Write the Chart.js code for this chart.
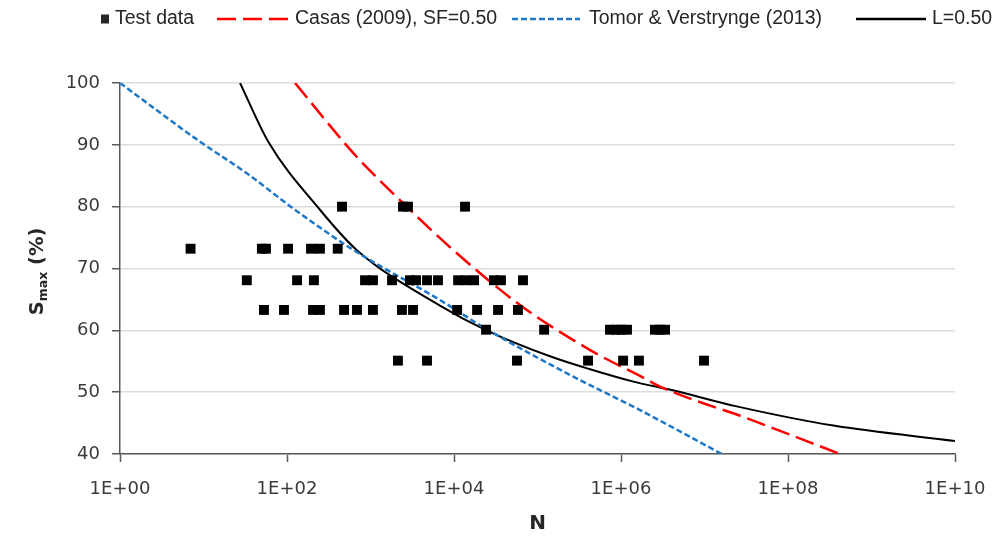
<!DOCTYPE html>
<html>
<head>
<meta charset="utf-8">
<script src="https://cdn.jsdelivr.net/npm/chart.js@4.4.1/dist/chart.umd.min.js"></script>
<style>
  html, body { margin: 0; padding: 0; background: #fff; }
</style>
</head>
<body>
<canvas id="fatigueChart" width="998" height="537"></canvas>
<script>
// Test results: number of cycles to failure and max stress level (%)
const testN = [
  456, 2450, 2810, 13550,
  7, 50, 56, 103, 194, 248, 405,
  33, 132, 210, 860, 1070, 1810, 2970, 3510, 4750, 6430, 11200, 13900, 17400, 30100, 36500, 67000,
  53, 92, 205, 248, 482, 689, 1070, 2380, 3230, 10900, 18900, 33700, 58300,
  24200, 120000, 738000, 871000, 1.0e6, 1.18e6, 2.55e6, 2.93e6, 3.37e6,
  2130, 4750, 56800, 403000, 1.06e6, 1.64e6, 9.86e6
];
const testS = [
  80, 80, 80, 80,
  73.2, 73.2, 73.2, 73.2, 73.2, 73.2, 73.2,
  68.1, 68.1, 68.1, 68.1, 68.1, 68.1, 68.1, 68.1, 68.1, 68.1, 68.1, 68.1, 68.1, 68.1, 68.1, 68.1,
  63.3, 63.3, 63.3, 63.3, 63.3, 63.3, 63.3, 63.3, 63.3, 63.3, 63.3, 63.3, 63.3,
  60.1, 60.1, 60.1, 60.1, 60.1, 60.1, 60.1, 60.1, 60.1,
  55.1, 55.1, 55.1, 55.1, 55.1, 55.1, 55.1
];

// Casas (2009), SF = 0.50
const casasN = [125, 495, 748, 2360, 9770, 61700, 427000, 1.94e6, 2.93e6, 3.5e7, 4.2e8];
const casasS = [100, 90.2, 87.5, 80.8, 73, 64.1, 56.8, 52.2, 50.9, 45.6, 40];

// Tomor & Verstrynge (2013)
const tomorN = [1, 9.1, 33, 119, 622, 6790, 24500, 269000, 1.69e6, 1.61e7];
const tomorS = [100, 90.5, 85.4, 79.7, 73, 64.9, 60.2, 52.5, 47.1, 40];

// L = 0.50
const lN = [27.4, 59.7, 248, 682, 6790, 24500, 141000, 427000, 1.41e6, 4.17e6, 2.43e7, 3.49e8, 1e10];
const lS = [100, 90.5, 79.5, 73, 64, 60, 55.8, 53.7, 51.7, 50.3, 47.7, 44.6, 42.1];

const xTicks = [1, 1e2, 1e4, 1e6, 1e8, 1e10];

const FONT = 'DejaVu Sans';
const LEGEND_FONT = 'Liberation Sans';
const AXIS = '#595959';
const TEXT = '#3a3a3a';

function pairs(xs, ys) {
  return xs.map((x, i) => ({ x: x, y: ys[i] }));
}

// legend row along the top
const legendPlugin = {
  id: 'topLegend',
  afterDraw(chart) {
    const ctx = chart.ctx;
    const y = 19;
    ctx.save();
    ctx.font = '19.5px "' + LEGEND_FONT + '"';
    ctx.fillStyle = '#262626';
    ctx.textBaseline = 'middle';
    ctx.textAlign = 'left';

    ctx.fillRect(101, y - 4.5, 8, 9);
    ctx.fillText('Test data', 115, y);

    const line = (x1, x2, color, width, dash) => {
      ctx.save();
      ctx.strokeStyle = color;
      ctx.lineWidth = width;
      ctx.setLineDash(dash);
      ctx.beginPath();
      ctx.moveTo(x1, y);
      ctx.lineTo(x2, y);
      ctx.stroke();
      ctx.restore();
    };
    line(217, 290, '#ff0000', 2.5, [19, 7]);
    ctx.fillText('Casas (2009), SF=0.50', 295, y);
    line(512, 580, '#1e78c8', 2.5, [6, 3]);
    ctx.fillText('Tomor & Verstrynge (2013)', 589, y);
    line(856, 926, '#000000', 2.5, []);
    ctx.fillText('L=0.50', 932, y);
    ctx.restore();
  }
};

// axis titles, the y one has a subscript
const titlePlugin = {
  id: 'axisTitles',
  afterDraw(chart) {
    const ctx = chart.ctx;
    const area = chart.chartArea;
    ctx.save();
    ctx.fillStyle = '#262626';
    ctx.textBaseline = 'alphabetic';

    ctx.font = 'bold 20px "' + FONT + '"';
    ctx.textAlign = 'center';
    ctx.fillText('N', (area.left + area.right) / 2, 529);

    const big = 'bold 19.5px "' + FONT + '"';
    const small = 'bold 12.5px "' + FONT + '"';
    ctx.font = big; const wS = ctx.measureText('S').width;
    const wP = ctx.measureText(' (%)').width;
    ctx.font = small; const wM = ctx.measureText('max').width;
    const total = wS + wM + wP;
    ctx.translate(43, (area.top + area.bottom) / 2 + 3);
    ctx.rotate(-Math.PI / 2);
    ctx.textAlign = 'left';
    let x = -total / 2;
    ctx.font = big; ctx.fillText('S', x, 0); x += wS;
    ctx.font = small; ctx.fillText('max', x, 4); x += wM;
    ctx.font = big; ctx.fillText(' (%)', x, 0);
    ctx.restore();
  }
};

new Chart(document.getElementById('fatigueChart'), {
  type: 'scatter',
  data: {
    datasets: [
      {
        label: 'Test data',
        data: pairs(testN, testS),
        pointStyle: 'rect',
        pointRadius: 7,
        pointHoverRadius: 7,
        backgroundColor: '#000000',
        borderColor: '#000000',
        borderWidth: 0
      },
      {
        label: 'Casas (2009), SF=0.50',
        data: pairs(casasN, casasS),
        showLine: true,
        pointRadius: 0,
        borderColor: '#ff0000',
        borderWidth: 2.5,
        borderDash: [19, 7],
        cubicInterpolationMode: 'monotone'
      },
      {
        label: 'Tomor & Verstrynge (2013)',
        data: pairs(tomorN, tomorS),
        showLine: true,
        pointRadius: 0,
        borderColor: '#1e78c8',
        borderWidth: 2.5,
        borderDash: [6, 3],
        cubicInterpolationMode: 'monotone'
      },
      {
        label: 'L=0.50',
        data: pairs(lN, lS),
        showLine: true,
        pointRadius: 0,
        borderColor: '#000000',
        borderWidth: 2,
        cubicInterpolationMode: 'monotone'
      }
    ]
  },
  options: {
    responsive: false,
    animation: false,
    layout: { padding: { top: 83, right: 43, left: 0, bottom: 0 } },
    plugins: {
      legend: { display: false },
      tooltip: { enabled: false }
    },
    scales: {
      x: {
        type: 'logarithmic',
        min: 1,
        max: 1e10,
        afterBuildTicks: scale => { scale.ticks = xTicks.map(v => ({ value: v })); },
        afterFit: scale => {
          scale.height = 83;
          scale.paddingLeft = 0;
          scale.paddingRight = 0;
        },
        ticks: {
          autoSkip: false,
          maxRotation: 0,
          padding: 17,
          color: TEXT,
          font: { family: FONT, size: 18 },
          callback: v => '1E+' + String(Math.round(Math.log10(v))).padStart(2, '0')
        },
        grid: { drawOnChartArea: false, tickLength: 8, tickColor: AXIS, tickWidth: 1.5 },
        border: { color: AXIS, width: 1.5 }
      },
      y: {
        min: 40,
        max: 100,
        afterFit: scale => { scale.width = 120; },
        ticks: {
          stepSize: 10,
          padding: 12,
          color: TEXT,
          font: { family: FONT, size: 18 }
        },
        grid: { color: '#dcdcdc', lineWidth: 1.5, tickLength: 8, tickColor: AXIS, tickWidth: 1.5 },
        border: { color: AXIS, width: 1.5 }
      }
    }
  },
  plugins: [legendPlugin, titlePlugin]
});
</script>
</body>
</html>
